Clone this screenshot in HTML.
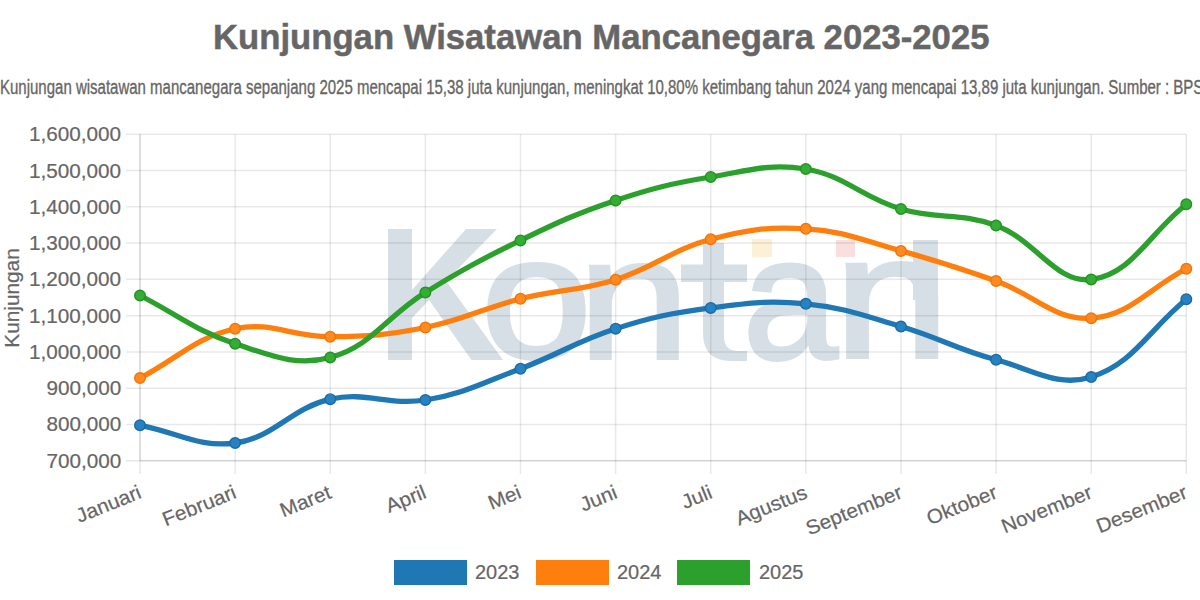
<!DOCTYPE html>
<html><head><meta charset="utf-8">
<style>
html,body{margin:0;padding:0;background:#fff;}
body{width:1200px;height:600px;position:relative;overflow:hidden;font-family:"Liberation Sans",sans-serif;color:#666;}
.yl,.xl,.ytitle,.legt{-webkit-text-stroke:0.2px #666;}
.title{position:absolute;left:212.9px;top:19.6px;font-weight:bold;font-size:35.5px;line-height:35.5px;-webkit-text-stroke:0.5px #666;white-space:nowrap;transform-origin:0 0;transform:scaleX(0.977);}
.sub{position:absolute;left:0.2px;top:76.5px;-webkit-text-stroke:0.35px #666;font-size:20px;line-height:20px;white-space:nowrap;transform-origin:0 0;transform:scaleX(0.75);}
.yl{position:absolute;right:1079px;font-size:20px;line-height:20px;margin-top:-10px;white-space:nowrap;text-align:right;transform-origin:100% 50%;transform:scaleX(1.035);}
.xl{position:absolute;top:491px;font-size:20px;line-height:20px;white-space:nowrap;transform-origin:100% 50%;transform:translate(-100%,-50%) rotate(-22deg) scaleX(1.04);}
.ytitle{position:absolute;left:12px;top:298px;font-size:20px;line-height:20px;white-space:nowrap;transform:translate(-50%,-50%) rotate(-90deg) scaleX(1.04);}
svg{position:absolute;left:0;top:0;}
.wl{position:absolute;font-size:183px;line-height:183px;color:#d7dfe6;-webkit-text-stroke:4px #d7dfe6;white-space:nowrap;transform-origin:0 0;}
.leg{position:absolute;top:560px;height:25px;}
.legt{position:absolute;top:560px;font-size:20px;line-height:25px;}
</style></head><body>
<div class="title">Kunjungan Wisatawan Mancanegara 2023-2025</div>
<div class="sub">Kunjungan wisatawan mancanegara sepanjang 2025 mencapai 15,38 juta kunjungan, meningkat 10,80% ketimbang tahun 2024 yang mencapai 13,89 juta kunjungan. Sumber : BPS</div>
<div class="wmc">
<span class="wl" style="left:480.5px;top:211.1px;transform:scale(1.089,0.943)">o</span>
<span class="wl" style="left:578px;top:212.1px;transform:scale(1.098,0.942)">n</span>
<span class="wl" style="left:743.4px;top:209.6px;transform:scale(0.929,0.952)">a</span>
<span class="wl" style="left:833.7px;top:209.6px;transform:scale(1.134,0.951)">n</span>
<div style="position:absolute;left:913px;top:240px;width:25px;height:60px;background:#d7dfe6"></div>
<div style="position:absolute;left:752px;top:239px;width:20px;height:18px;background:#fcf0d6"></div>
<div style="position:absolute;left:835.5px;top:240px;width:19.5px;height:17px;background:#f9dfdd"></div>
</div>
<svg width="1200" height="600" viewBox="0 0 1200 600">
<polygon points="388,229 412,229 412,290 466,229 497,229 446,281 503,360 471.5,360 429,300 412,318 412,360 388,360" fill="#d7dfe6"/><path d="M703 243 H724 V264.5 H747 V282 H724 V336 Q724 351 738 351 H747 V361 H731 Q703 361 703 333 V282 H681 V264.5 H703 Z" fill="#d7dfe6"/><line x1="126" y1="134.30" x2="1186.3" y2="134.30" stroke="rgba(0,0,0,0.09)" stroke-width="1.5"/><line x1="126" y1="170.57" x2="1186.3" y2="170.57" stroke="rgba(0,0,0,0.09)" stroke-width="1.5"/><line x1="126" y1="206.83" x2="1186.3" y2="206.83" stroke="rgba(0,0,0,0.09)" stroke-width="1.5"/><line x1="126" y1="243.10" x2="1186.3" y2="243.10" stroke="rgba(0,0,0,0.09)" stroke-width="1.5"/><line x1="126" y1="279.37" x2="1186.3" y2="279.37" stroke="rgba(0,0,0,0.09)" stroke-width="1.5"/><line x1="126" y1="315.63" x2="1186.3" y2="315.63" stroke="rgba(0,0,0,0.09)" stroke-width="1.5"/><line x1="126" y1="351.90" x2="1186.3" y2="351.90" stroke="rgba(0,0,0,0.09)" stroke-width="1.5"/><line x1="126" y1="388.17" x2="1186.3" y2="388.17" stroke="rgba(0,0,0,0.09)" stroke-width="1.5"/><line x1="126" y1="424.43" x2="1186.3" y2="424.43" stroke="rgba(0,0,0,0.09)" stroke-width="1.5"/><line x1="126" y1="460.70" x2="1186.3" y2="460.70" stroke="rgba(0,0,0,0.09)" stroke-width="1.5"/><line x1="140.00" y1="134.3" x2="140.00" y2="474" stroke="rgba(0,0,0,0.09)" stroke-width="1.5"/><line x1="235.12" y1="134.3" x2="235.12" y2="474" stroke="rgba(0,0,0,0.09)" stroke-width="1.5"/><line x1="330.24" y1="134.3" x2="330.24" y2="474" stroke="rgba(0,0,0,0.09)" stroke-width="1.5"/><line x1="425.36" y1="134.3" x2="425.36" y2="474" stroke="rgba(0,0,0,0.09)" stroke-width="1.5"/><line x1="520.48" y1="134.3" x2="520.48" y2="474" stroke="rgba(0,0,0,0.09)" stroke-width="1.5"/><line x1="615.60" y1="134.3" x2="615.60" y2="474" stroke="rgba(0,0,0,0.09)" stroke-width="1.5"/><line x1="710.72" y1="134.3" x2="710.72" y2="474" stroke="rgba(0,0,0,0.09)" stroke-width="1.5"/><line x1="805.84" y1="134.3" x2="805.84" y2="474" stroke="rgba(0,0,0,0.09)" stroke-width="1.5"/><line x1="900.96" y1="134.3" x2="900.96" y2="474" stroke="rgba(0,0,0,0.09)" stroke-width="1.5"/><line x1="996.08" y1="134.3" x2="996.08" y2="474" stroke="rgba(0,0,0,0.09)" stroke-width="1.5"/><line x1="1091.20" y1="134.3" x2="1091.20" y2="474" stroke="rgba(0,0,0,0.09)" stroke-width="1.5"/><line x1="1186.32" y1="134.3" x2="1186.32" y2="474" stroke="rgba(0,0,0,0.09)" stroke-width="1.5"/><line x1="140" y1="134.3" x2="140" y2="460.7" stroke="rgba(0,0,0,0.09)" stroke-width="1.5"/><line x1="140" y1="460.7" x2="1186.3" y2="460.7" stroke="rgba(0,0,0,0.09)" stroke-width="1.5"/>
<path d="M140.00 425.30 C178.05 432.38 198.58 448.01 235.12 443.00 C274.67 437.57 290.36 408.21 330.24 399.20 C366.46 391.01 388.29 405.94 425.36 400.00 C464.39 393.74 483.00 382.75 520.48 368.70 C559.10 354.23 576.45 341.21 615.60 328.70 C652.54 316.89 672.25 312.94 710.72 307.90 C748.34 302.98 768.30 300.13 805.84 303.80 C844.40 307.57 863.48 315.47 900.96 326.50 C939.58 337.87 957.24 349.49 996.08 359.80 C1033.33 369.69 1057.69 387.67 1091.20 377.00 C1133.79 363.45 1148.27 330.35 1186.32 299.25" fill="none" stroke="#1f77b4" stroke-width="5.3" stroke-linejoin="round"/><circle cx="140.00" cy="425.30" r="5.3" fill="#2782c4" stroke="#1c6aa2" stroke-width="1.4"/><circle cx="235.12" cy="443.00" r="5.3" fill="#2782c4" stroke="#1c6aa2" stroke-width="1.4"/><circle cx="330.24" cy="399.20" r="5.3" fill="#2782c4" stroke="#1c6aa2" stroke-width="1.4"/><circle cx="425.36" cy="400.00" r="5.3" fill="#2782c4" stroke="#1c6aa2" stroke-width="1.4"/><circle cx="520.48" cy="368.70" r="5.3" fill="#2782c4" stroke="#1c6aa2" stroke-width="1.4"/><circle cx="615.60" cy="328.70" r="5.3" fill="#2782c4" stroke="#1c6aa2" stroke-width="1.4"/><circle cx="710.72" cy="307.90" r="5.3" fill="#2782c4" stroke="#1c6aa2" stroke-width="1.4"/><circle cx="805.84" cy="303.80" r="5.3" fill="#2782c4" stroke="#1c6aa2" stroke-width="1.4"/><circle cx="900.96" cy="326.50" r="5.3" fill="#2782c4" stroke="#1c6aa2" stroke-width="1.4"/><circle cx="996.08" cy="359.80" r="5.3" fill="#2782c4" stroke="#1c6aa2" stroke-width="1.4"/><circle cx="1091.20" cy="377.00" r="5.3" fill="#2782c4" stroke="#1c6aa2" stroke-width="1.4"/><circle cx="1186.32" cy="299.25" r="5.3" fill="#2782c4" stroke="#1c6aa2" stroke-width="1.4"/>
<path d="M140.00 378.10 C178.05 358.36 194.87 337.51 235.12 328.75 C270.97 320.95 292.21 336.95 330.24 336.70 C368.31 336.45 388.05 334.93 425.36 327.50 C464.15 319.77 481.98 308.47 520.48 298.80 C558.08 289.35 578.75 291.22 615.60 279.70 C654.85 267.42 671.21 249.87 710.72 239.30 C747.31 229.51 768.18 226.50 805.84 228.80 C844.27 231.14 863.32 240.57 900.96 250.90 C939.42 261.45 958.48 267.69 996.08 281.00 C1034.58 294.63 1054.07 320.64 1091.20 318.25 C1130.17 315.74 1148.27 288.55 1186.32 268.75" fill="none" stroke="#ff7f0e" stroke-width="5.3" stroke-linejoin="round"/><circle cx="140.00" cy="378.10" r="5.3" fill="#ff8a1f" stroke="#f07508" stroke-width="1.4"/><circle cx="235.12" cy="328.75" r="5.3" fill="#ff8a1f" stroke="#f07508" stroke-width="1.4"/><circle cx="330.24" cy="336.70" r="5.3" fill="#ff8a1f" stroke="#f07508" stroke-width="1.4"/><circle cx="425.36" cy="327.50" r="5.3" fill="#ff8a1f" stroke="#f07508" stroke-width="1.4"/><circle cx="520.48" cy="298.80" r="5.3" fill="#ff8a1f" stroke="#f07508" stroke-width="1.4"/><circle cx="615.60" cy="279.70" r="5.3" fill="#ff8a1f" stroke="#f07508" stroke-width="1.4"/><circle cx="710.72" cy="239.30" r="5.3" fill="#ff8a1f" stroke="#f07508" stroke-width="1.4"/><circle cx="805.84" cy="228.80" r="5.3" fill="#ff8a1f" stroke="#f07508" stroke-width="1.4"/><circle cx="900.96" cy="250.90" r="5.3" fill="#ff8a1f" stroke="#f07508" stroke-width="1.4"/><circle cx="996.08" cy="281.00" r="5.3" fill="#ff8a1f" stroke="#f07508" stroke-width="1.4"/><circle cx="1091.20" cy="318.25" r="5.3" fill="#ff8a1f" stroke="#f07508" stroke-width="1.4"/><circle cx="1186.32" cy="268.75" r="5.3" fill="#ff8a1f" stroke="#f07508" stroke-width="1.4"/>
<path d="M140.00 295.50 C178.05 314.80 195.09 330.70 235.12 343.75 C271.19 355.50 295.63 366.82 330.24 357.50 C371.73 346.32 386.16 316.63 425.36 292.50 C462.26 269.79 481.49 259.28 520.48 240.40 C557.58 222.44 576.56 213.41 615.60 200.40 C652.66 188.05 672.18 183.36 710.72 177.00 C748.28 170.80 769.27 162.85 805.84 169.00 C845.37 175.65 861.65 197.32 900.96 209.00 C937.74 219.92 960.40 212.28 996.08 225.50 C1036.50 240.48 1055.12 283.53 1091.20 279.50 C1131.21 275.03 1148.27 234.35 1186.32 204.25" fill="none" stroke="#2ca02c" stroke-width="5.3" stroke-linejoin="round"/><circle cx="140.00" cy="295.50" r="5.3" fill="#33ad33" stroke="#279027" stroke-width="1.4"/><circle cx="235.12" cy="343.75" r="5.3" fill="#33ad33" stroke="#279027" stroke-width="1.4"/><circle cx="330.24" cy="357.50" r="5.3" fill="#33ad33" stroke="#279027" stroke-width="1.4"/><circle cx="425.36" cy="292.50" r="5.3" fill="#33ad33" stroke="#279027" stroke-width="1.4"/><circle cx="520.48" cy="240.40" r="5.3" fill="#33ad33" stroke="#279027" stroke-width="1.4"/><circle cx="615.60" cy="200.40" r="5.3" fill="#33ad33" stroke="#279027" stroke-width="1.4"/><circle cx="710.72" cy="177.00" r="5.3" fill="#33ad33" stroke="#279027" stroke-width="1.4"/><circle cx="805.84" cy="169.00" r="5.3" fill="#33ad33" stroke="#279027" stroke-width="1.4"/><circle cx="900.96" cy="209.00" r="5.3" fill="#33ad33" stroke="#279027" stroke-width="1.4"/><circle cx="996.08" cy="225.50" r="5.3" fill="#33ad33" stroke="#279027" stroke-width="1.4"/><circle cx="1091.20" cy="279.50" r="5.3" fill="#33ad33" stroke="#279027" stroke-width="1.4"/><circle cx="1186.32" cy="204.25" r="5.3" fill="#33ad33" stroke="#279027" stroke-width="1.4"/>
</svg>
<div class="yl" style="top:134.30px">1,600,000</div><div class="yl" style="top:170.57px">1,500,000</div><div class="yl" style="top:206.83px">1,400,000</div><div class="yl" style="top:243.10px">1,300,000</div><div class="yl" style="top:279.37px">1,200,000</div><div class="yl" style="top:315.63px">1,100,000</div><div class="yl" style="top:351.90px">1,000,000</div><div class="yl" style="top:388.17px">900,000</div><div class="yl" style="top:424.43px">800,000</div><div class="yl" style="top:460.70px">700,000</div>
<div class="xl" style="left:140.00px">Januari</div><div class="xl" style="left:235.12px">Februari</div><div class="xl" style="left:330.24px">Maret</div><div class="xl" style="left:425.36px">April</div><div class="xl" style="left:520.48px">Mei</div><div class="xl" style="left:615.60px">Juni</div><div class="xl" style="left:710.72px">Juli</div><div class="xl" style="left:805.84px">Agustus</div><div class="xl" style="left:900.96px">September</div><div class="xl" style="left:996.08px">Oktober</div><div class="xl" style="left:1091.20px">November</div><div class="xl" style="left:1186.32px">Desember</div>
<div class="ytitle">Kunjungan</div>
<div class="leg" style="left:393.6px;width:73.4px;background:#1f77b4"></div><div class="legt" style="left:475px">2023</div>
<div class="leg" style="left:535.6px;width:73.4px;background:#ff7f0e"></div><div class="legt" style="left:617px">2024</div>
<div class="leg" style="left:677px;width:73.4px;background:#2ca02c"></div><div class="legt" style="left:759px">2025</div>
</body></html>
